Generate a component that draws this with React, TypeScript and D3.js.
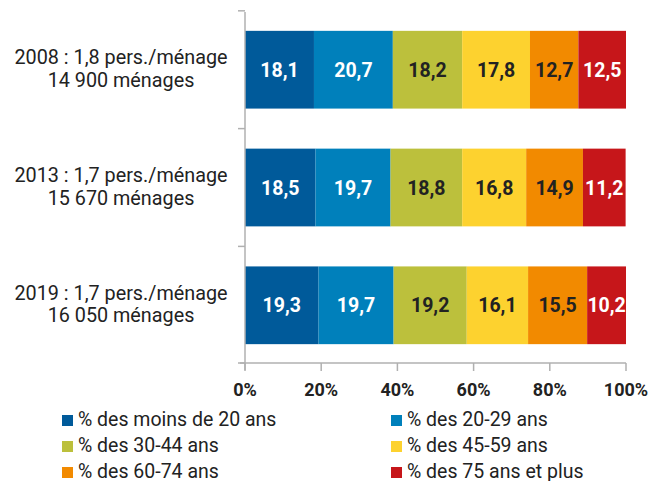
import React from "react";
import * as d3 from "d3";

const categories = ["2008", "2013", "2019"];
const labelLine1 = ["2008 : 1,8 pers./ménage", "2013 : 1,7 pers./ménage", "2019 : 1,7 pers./ménage"];
const labelLine2 = ["14 900 ménages", "15 670 ménages", "16 050 ménages"];
const seriesNames = [
  "% des moins de 20 ans",
  "% des 20-29 ans",
  "% des 30-44 ans",
  "% des 45-59 ans",
  "% des 60-74 ans",
  "% des 75 ans et plus",
];
const values2008 = [18.1, 20.7, 18.2, 17.8, 12.7, 12.5];
const values2013 = [18.5, 19.7, 18.8, 16.8, 14.9, 11.2];
const values2019 = [19.3, 19.7, 19.2, 16.1, 15.5, 10.2];
const seriesColors = ["#005a9a", "#0080bb", "#bcc03c", "#fdd22f", "#f28a00", "#c6161a"];
const labelColors = ["#ffffff", "#ffffff", "#222222", "#222222", "#222222", "#ffffff"];
const xTicks = [0, 20, 40, 60, 80, 100];

const allValues = [values2008, values2013, values2019];

export default function App() {
  const W = 653, H = 481;
  const left = 245, right = 626, top = 12, bottom = 363;
  const x = d3.scaleLinear().domain([0, 100]).range([left, right]);
  const y = d3.scaleBand().domain(categories).range([top, bottom]).paddingInner(0.34).paddingOuter(0.16);
  const font = "Roboto, 'Noto Sans', sans-serif";
  const axisColor = "#b0b0b0";
  const step = y.step();
  const boundaries = categories.map((c) => (y(c) as number) - (step - y.bandwidth()) / 2);
  boundaries.push(bottom);

  return (
    <svg width={W} height={H} style={{ position: "absolute", left: 0, top: 0 }} fontFamily={font}>
      <rect width={W} height={H} fill="#ffffff" />
      {categories.map((c, ci) => {
        const vals = allValues[ci];
        const stacked = d3.cumsum(vals);
        const y0 = y(c) as number;
        const bh = y.bandwidth();
        return (
          <g key={c}>
            {vals.map((v, si) => {
              const start = si === 0 ? 0 : stacked[si - 1];
              const x0 = x(start);
              const x1 = x(start + v);
              return (
                <g key={si}>
                  <rect x={x0} y={y0} width={x1 - x0} height={bh} fill={seriesColors[si]} />
                  <text
                    x={(x0 + x1) / 2}
                    y={y0 + bh / 2}
                    dy="0.36em"
                    textAnchor="middle"
                    fontWeight="bold"
                    fontSize={19.5}
                    fill={labelColors[si]}
                  >
                    {v.toFixed(1).replace(".", ",")}
                  </text>
                </g>
              );
            })}
            <text x={121} y={y0 + bh / 2 - 5.5} textAnchor="middle" fontSize={19.8} fill="#222">
              {labelLine1[ci]}
            </text>
            <text x={121} y={y0 + bh / 2 + 17} textAnchor="middle" fontSize={19.8} fill="#222">
              {labelLine2[ci]}
            </text>
          </g>
        );
      })}
      {/* left axis */}
      <line x1={left} x2={left} y1={top} y2={bottom + 7} stroke={axisColor} strokeWidth={1.5} />
      {boundaries.map((b, i) => (
        <line key={i} x1={left - 7} x2={left} y1={b} y2={b} stroke={axisColor} strokeWidth={1.5} />
      ))}
      {/* bottom axis */}
      <line x1={left - 5} x2={right} y1={bottom} y2={bottom} stroke={axisColor} strokeWidth={1.5} />
      {xTicks.map((t) => (
        <g key={t}>
          <line x1={x(t)} x2={x(t)} y1={bottom} y2={bottom + 8} stroke={axisColor} strokeWidth={1.5} />
          <text x={x(t)} y={bottom + 33} textAnchor="middle" fontWeight="bold" fontSize={18} fill="#222">
            {t + "%"}
          </text>
        </g>
      ))}
      {/* legend */}
      {seriesNames.map((n, i) => {
        const col = i % 2;
        const row = Math.floor(i / 2);
        const lx = col === 0 ? 62 : 391;
        const ly = 415 + row * 26;
        return (
          <g key={n}>
            <rect x={lx} y={ly} width={11} height={11} fill={seriesColors[i]} />
            <text x={lx + 16} y={ly + 11} fontSize={19.5} fill="#222">
              {n}
            </text>
          </g>
        );
      })}
    </svg>
  );
}
